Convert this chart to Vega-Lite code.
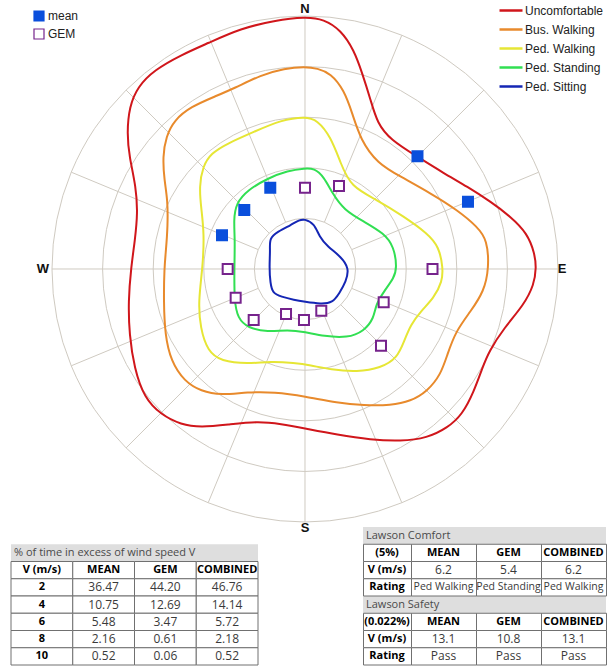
{
  "$schema": "https://vega.github.io/schema/vega-lite/v6.json",
  "padding": {"left": 10, "top": 0, "right": 0, "bottom": 0},
  "autosize": {"type": "pad"},
  "background": "white",
  "bounds": "flush",
  "spacing": 4,
  "config": {"view": {"stroke": null}},
  "datasets": {
    "rings": [
      {"x": 0, "y": 0, "r": 1}, {"x": 0, "y": 0, "r": 2}, {"x": 0, "y": 0, "r": 3}, {"x": 0, "y": 0, "r": 4}, {"x": 0, "y": 0, "r": 5}
    ],
    "spokes": [
      {"x": 0, "y": 5, "x2": 0, "y2": -5},
      {"x": -5, "y": 0, "x2": 5, "y2": 0},
      {"x": 0.383, "y": 0.924, "x2": 1.913, "y2": 4.619},
      {"x": 0.707, "y": 0.707, "x2": 3.536, "y2": 3.536},
      {"x": 0.924, "y": 0.383, "x2": 4.619, "y2": 1.913},
      {"x": 0.924, "y": -0.383, "x2": 4.619, "y2": -1.913},
      {"x": 0.707, "y": -0.707, "x2": 3.536, "y2": -3.536},
      {"x": 0.383, "y": -0.924, "x2": 1.913, "y2": -4.619},
      {"x": -0.383, "y": -0.924, "x2": -1.913, "y2": -4.619},
      {"x": -0.707, "y": -0.707, "x2": -3.536, "y2": -3.536},
      {"x": -0.924, "y": -0.383, "x2": -4.619, "y2": -1.913},
      {"x": -0.924, "y": 0.383, "x2": -4.619, "y2": 1.913},
      {"x": -0.707, "y": 0.707, "x2": -3.536, "y2": 3.536},
      {"x": -0.383, "y": 0.924, "x2": -1.913, "y2": 4.619}
    ],
    "contours": [
      {"level": "Uncomfortable", "i": 0, "x": 0.006, "y": 4.986},
      {"level": "Uncomfortable", "i": 1, "x": -0.607, "y": 4.907},
      {"level": "Uncomfortable", "i": 2, "x": -1.265, "y": 4.757},
      {"level": "Uncomfortable", "i": 3, "x": -1.923, "y": 4.46},
      {"level": "Uncomfortable", "i": 4, "x": -2.451, "y": 4.229},
      {"level": "Uncomfortable", "i": 5, "x": -2.978, "y": 3.933},
      {"level": "Uncomfortable", "i": 6, "x": -3.306, "y": 3.603},
      {"level": "Uncomfortable", "i": 7, "x": -3.472, "y": 3.208},
      {"level": "Uncomfortable", "i": 8, "x": -3.518, "y": 2.682},
      {"level": "Uncomfortable", "i": 9, "x": -3.472, "y": 2.219},
      {"level": "Uncomfortable", "i": 10, "x": -3.34, "y": 1.626},
      {"level": "Uncomfortable", "i": 11, "x": -3.306, "y": 1.101},
      {"level": "Uncomfortable", "i": 12, "x": -3.36, "y": 0.573},
      {"level": "Uncomfortable", "i": 13, "x": -3.439, "y": 0.014},
      {"level": "Uncomfortable", "i": 14, "x": -3.492, "y": -0.638},
      {"level": "Uncomfortable", "i": 15, "x": -3.472, "y": -1.298},
      {"level": "Uncomfortable", "i": 16, "x": -3.374, "y": -1.957},
      {"level": "Uncomfortable", "i": 17, "x": -3.176, "y": -2.549},
      {"level": "Uncomfortable", "i": 18, "x": -2.846, "y": -2.879},
      {"level": "Uncomfortable", "i": 19, "x": -2.451, "y": -3.077},
      {"level": "Uncomfortable", "i": 20, "x": -2.055, "y": -3.128},
      {"level": "Uncomfortable", "i": 21, "x": -1.528, "y": -3.077},
      {"level": "Uncomfortable", "i": 22, "x": -0.935, "y": -3.01},
      {"level": "Uncomfortable", "i": 23, "x": -0.474, "y": -3.063},
      {"level": "Uncomfortable", "i": 24, "x": 0, "y": -3.152},
      {"level": "Uncomfortable", "i": 25, "x": 0.638, "y": -3.275},
      {"level": "Uncomfortable", "i": 26, "x": 1.298, "y": -3.374},
      {"level": "Uncomfortable", "i": 27, "x": 1.891, "y": -3.405},
      {"level": "Uncomfortable", "i": 28, "x": 2.417, "y": -3.34},
      {"level": "Uncomfortable", "i": 29, "x": 2.812, "y": -3.142},
      {"level": "Uncomfortable", "i": 30, "x": 3.109, "y": -2.879},
      {"level": "Uncomfortable", "i": 31, "x": 3.34, "y": -2.417},
      {"level": "Uncomfortable", "i": 32, "x": 3.504, "y": -1.957},
      {"level": "Uncomfortable", "i": 33, "x": 3.636, "y": -1.626},
      {"level": "Uncomfortable", "i": 34, "x": 3.933, "y": -1.166},
      {"level": "Uncomfortable", "i": 35, "x": 4.328, "y": -0.706},
      {"level": "Uncomfortable", "i": 36, "x": 4.526, "y": -0.31},
      {"level": "Uncomfortable", "i": 37, "x": 4.571, "y": 0.02},
      {"level": "Uncomfortable", "i": 38, "x": 4.54, "y": 0.31},
      {"level": "Uncomfortable", "i": 39, "x": 4.393, "y": 0.706},
      {"level": "Uncomfortable", "i": 40, "x": 4.065, "y": 1.034},
      {"level": "Uncomfortable", "i": 41, "x": 3.67, "y": 1.33},
      {"level": "Uncomfortable", "i": 42, "x": 3.208, "y": 1.626},
      {"level": "Uncomfortable", "i": 43, "x": 2.747, "y": 1.891},
      {"level": "Uncomfortable", "i": 44, "x": 2.219, "y": 2.219},
      {"level": "Uncomfortable", "i": 45, "x": 1.694, "y": 2.549},
      {"level": "Uncomfortable", "i": 46, "x": 1.429, "y": 2.879},
      {"level": "Uncomfortable", "i": 47, "x": 1.298, "y": 3.34},
      {"level": "Uncomfortable", "i": 48, "x": 1.132, "y": 3.868},
      {"level": "Uncomfortable", "i": 49, "x": 0.968, "y": 4.328},
      {"level": "Uncomfortable", "i": 50, "x": 0.706, "y": 4.723},
      {"level": "Uncomfortable", "i": 51, "x": 0.375, "y": 4.935},
      {"level": "Bus. Walking", "i": 0, "x": 0.006, "y": 3.998},
      {"level": "Bus. Walking", "i": 1, "x": -0.409, "y": 3.966},
      {"level": "Bus. Walking", "i": 2, "x": -0.87, "y": 3.834},
      {"level": "Bus. Walking", "i": 3, "x": -1.397, "y": 3.571},
      {"level": "Bus. Walking", "i": 4, "x": -1.792, "y": 3.405},
      {"level": "Bus. Walking", "i": 5, "x": -2.253, "y": 3.208},
      {"level": "Bus. Walking", "i": 6, "x": -2.583, "y": 2.945},
      {"level": "Bus. Walking", "i": 7, "x": -2.747, "y": 2.615},
      {"level": "Bus. Walking", "i": 8, "x": -2.812, "y": 2.219},
      {"level": "Bus. Walking", "i": 9, "x": -2.781, "y": 1.759},
      {"level": "Bus. Walking", "i": 10, "x": -2.713, "y": 1.364},
      {"level": "Bus. Walking", "i": 11, "x": -2.713, "y": 0.836},
      {"level": "Bus. Walking", "i": 12, "x": -2.747, "y": 0.375},
      {"level": "Bus. Walking", "i": 13, "x": -2.781, "y": 0.014},
      {"level": "Bus. Walking", "i": 14, "x": -2.792, "y": -0.638},
      {"level": "Bus. Walking", "i": 15, "x": -2.767, "y": -1.298},
      {"level": "Bus. Walking", "i": 16, "x": -2.648, "y": -1.824},
      {"level": "Bus. Walking", "i": 17, "x": -2.385, "y": -2.219},
      {"level": "Bus. Walking", "i": 18, "x": -2.055, "y": -2.417},
      {"level": "Bus. Walking", "i": 19, "x": -1.66, "y": -2.496},
      {"level": "Bus. Walking", "i": 20, "x": -1.132, "y": -2.431},
      {"level": "Bus. Walking", "i": 21, "x": -0.607, "y": -2.431},
      {"level": "Bus. Walking", "i": 22, "x": 0, "y": -2.516},
      {"level": "Bus. Walking", "i": 23, "x": 0.638, "y": -2.648},
      {"level": "Bus. Walking", "i": 24, "x": 1.166, "y": -2.694},
      {"level": "Bus. Walking", "i": 25, "x": 1.694, "y": -2.694},
      {"level": "Bus. Walking", "i": 26, "x": 2.089, "y": -2.615},
      {"level": "Bus. Walking", "i": 27, "x": 2.417, "y": -2.417},
      {"level": "Bus. Walking", "i": 28, "x": 2.682, "y": -2.089},
      {"level": "Bus. Walking", "i": 29, "x": 2.812, "y": -1.694},
      {"level": "Bus. Walking", "i": 30, "x": 2.978, "y": -1.231},
      {"level": "Bus. Walking", "i": 31, "x": 3.275, "y": -0.836},
      {"level": "Bus. Walking", "i": 32, "x": 3.538, "y": -0.441},
      {"level": "Bus. Walking", "i": 33, "x": 3.636, "y": 0.02},
      {"level": "Bus. Walking", "i": 34, "x": 3.603, "y": 0.573},
      {"level": "Bus. Walking", "i": 35, "x": 3.405, "y": 0.836},
      {"level": "Bus. Walking", "i": 36, "x": 3.01, "y": 1.166},
      {"level": "Bus. Walking", "i": 37, "x": 2.484, "y": 1.496},
      {"level": "Bus. Walking", "i": 38, "x": 1.891, "y": 1.824},
      {"level": "Bus. Walking", "i": 39, "x": 1.429, "y": 2.089},
      {"level": "Bus. Walking", "i": 40, "x": 1.101, "y": 2.549},
      {"level": "Bus. Walking", "i": 41, "x": 0.935, "y": 3.077},
      {"level": "Bus. Walking", "i": 42, "x": 0.771, "y": 3.538},
      {"level": "Bus. Walking", "i": 43, "x": 0.508, "y": 3.868},
      {"level": "Bus. Walking", "i": 44, "x": 0.243, "y": 3.966},
      {"level": "Ped. Walking", "i": 0, "x": 0.006, "y": 3.01},
      {"level": "Ped. Walking", "i": 1, "x": -0.474, "y": 2.945},
      {"level": "Ped. Walking", "i": 2, "x": -1.002, "y": 2.713},
      {"level": "Ped. Walking", "i": 3, "x": -1.528, "y": 2.484},
      {"level": "Ped. Walking", "i": 4, "x": -1.858, "y": 2.287},
      {"level": "Ped. Walking", "i": 5, "x": -2.022, "y": 2.022},
      {"level": "Ped. Walking", "i": 6, "x": -2.089, "y": 1.626},
      {"level": "Ped. Walking", "i": 7, "x": -2.055, "y": 1.231},
      {"level": "Ped. Walking", "i": 8, "x": -1.99, "y": 0.706},
      {"level": "Ped. Walking", "i": 9, "x": -2.022, "y": 0.014},
      {"level": "Ped. Walking", "i": 10, "x": -2.109, "y": -0.638},
      {"level": "Ped. Walking", "i": 11, "x": -2.069, "y": -1.166},
      {"level": "Ped. Walking", "i": 12, "x": -1.923, "y": -1.626},
      {"level": "Ped. Walking", "i": 13, "x": -1.66, "y": -1.824},
      {"level": "Ped. Walking", "i": 14, "x": -1.132, "y": -1.877},
      {"level": "Ped. Walking", "i": 15, "x": -0.672, "y": -1.824},
      {"level": "Ped. Walking", "i": 16, "x": -0.211, "y": -1.858},
      {"level": "Ped. Walking", "i": 17, "x": 0.1, "y": -1.9},
      {"level": "Ped. Walking", "i": 18, "x": 0.508, "y": -1.99},
      {"level": "Ped. Walking", "i": 19, "x": 1.034, "y": -2.036},
      {"level": "Ped. Walking", "i": 20, "x": 1.496, "y": -1.957},
      {"level": "Ped. Walking", "i": 21, "x": 1.824, "y": -1.759},
      {"level": "Ped. Walking", "i": 22, "x": 1.957, "y": -1.429},
      {"level": "Ped. Walking", "i": 23, "x": 2.089, "y": -1.101},
      {"level": "Ped. Walking", "i": 24, "x": 2.287, "y": -0.836},
      {"level": "Ped. Walking", "i": 25, "x": 2.549, "y": -0.573},
      {"level": "Ped. Walking", "i": 26, "x": 2.713, "y": -0.243},
      {"level": "Ped. Walking", "i": 27, "x": 2.727, "y": 0.02},
      {"level": "Ped. Walking", "i": 28, "x": 2.648, "y": 0.441},
      {"level": "Ped. Walking", "i": 29, "x": 2.417, "y": 0.706},
      {"level": "Ped. Walking", "i": 30, "x": 1.957, "y": 1.034},
      {"level": "Ped. Walking", "i": 31, "x": 1.429, "y": 1.364},
      {"level": "Ped. Walking", "i": 32, "x": 0.903, "y": 1.626},
      {"level": "Ped. Walking", "i": 33, "x": 0.706, "y": 2.089},
      {"level": "Ped. Walking", "i": 34, "x": 0.508, "y": 2.615},
      {"level": "Ped. Walking", "i": 35, "x": 0.243, "y": 2.945},
      {"level": "Ped. Standing", "i": 0, "x": 0.006, "y": 1.99},
      {"level": "Ped. Standing", "i": 1, "x": -0.342, "y": 1.943},
      {"level": "Ped. Standing", "i": 2, "x": -0.737, "y": 1.792},
      {"level": "Ped. Standing", "i": 3, "x": -1.132, "y": 1.561},
      {"level": "Ped. Standing", "i": 4, "x": -1.364, "y": 1.298},
      {"level": "Ped. Standing", "i": 5, "x": -1.409, "y": 0.968},
      {"level": "Ped. Standing", "i": 6, "x": -1.383, "y": 0.573},
      {"level": "Ped. Standing", "i": 7, "x": -1.397, "y": 0.014},
      {"level": "Ped. Standing", "i": 8, "x": -1.397, "y": -0.638},
      {"level": "Ped. Standing", "i": 9, "x": -1.33, "y": -0.968},
      {"level": "Ped. Standing", "i": 10, "x": -1.132, "y": -1.166},
      {"level": "Ped. Standing", "i": 11, "x": -0.737, "y": -1.245},
      {"level": "Ped. Standing", "i": 12, "x": -0.342, "y": -1.2},
      {"level": "Ped. Standing", "i": 13, "x": 0, "y": -1.245},
      {"level": "Ped. Standing", "i": 14, "x": 0.375, "y": -1.33},
      {"level": "Ped. Standing", "i": 15, "x": 0.836, "y": -1.364},
      {"level": "Ped. Standing", "i": 16, "x": 1.166, "y": -1.231},
      {"level": "Ped. Standing", "i": 17, "x": 1.364, "y": -0.968},
      {"level": "Ped. Standing", "i": 18, "x": 1.397, "y": -0.706},
      {"level": "Ped. Standing", "i": 19, "x": 1.561, "y": -0.441},
      {"level": "Ped. Standing", "i": 20, "x": 1.759, "y": -0.178},
      {"level": "Ped. Standing", "i": 21, "x": 1.818, "y": 0.02},
      {"level": "Ped. Standing", "i": 22, "x": 1.759, "y": 0.441},
      {"level": "Ped. Standing", "i": 23, "x": 1.561, "y": 0.706},
      {"level": "Ped. Standing", "i": 24, "x": 1.166, "y": 0.935},
      {"level": "Ped. Standing", "i": 25, "x": 0.771, "y": 1.166},
      {"level": "Ped. Standing", "i": 26, "x": 0.54, "y": 1.496},
      {"level": "Ped. Standing", "i": 27, "x": 0.375, "y": 1.824},
      {"level": "Ped. Standing", "i": 28, "x": 0.178, "y": 1.99},
      {"level": "Ped. Sitting", "i": 0, "x": -0.014, "y": 0.988},
      {"level": "Ped. Sitting", "i": 1, "x": 0.184, "y": 0.903},
      {"level": "Ped. Sitting", "i": 2, "x": 0.283, "y": 0.638},
      {"level": "Ped. Sitting", "i": 3, "x": 0.449, "y": 0.441},
      {"level": "Ped. Sitting", "i": 4, "x": 0.711, "y": 0.243},
      {"level": "Ped. Sitting", "i": 5, "x": 0.875, "y": 0.014},
      {"level": "Ped. Sitting", "i": 6, "x": 0.81, "y": -0.251},
      {"level": "Ped. Sitting", "i": 7, "x": 0.678, "y": -0.48},
      {"level": "Ped. Sitting", "i": 8, "x": 0.547, "y": -0.666},
      {"level": "Ped. Sitting", "i": 9, "x": 0.316, "y": -0.692},
      {"level": "Ped. Sitting", "i": 10, "x": -0.014, "y": -0.646},
      {"level": "Ped. Sitting", "i": 11, "x": -0.211, "y": -0.613},
      {"level": "Ped. Sitting", "i": 12, "x": -0.474, "y": -0.547},
      {"level": "Ped. Sitting", "i": 13, "x": -0.638, "y": -0.48},
      {"level": "Ped. Sitting", "i": 14, "x": -0.686, "y": -0.283},
      {"level": "Ped. Sitting", "i": 15, "x": -0.706, "y": 0.045},
      {"level": "Ped. Sitting", "i": 16, "x": -0.686, "y": 0.375},
      {"level": "Ped. Sitting", "i": 17, "x": -0.706, "y": 0.607},
      {"level": "Ped. Sitting", "i": 18, "x": -0.54, "y": 0.737},
      {"level": "Ped. Sitting", "i": 19, "x": -0.277, "y": 0.87},
      {"level": "Ped. Sitting", "i": 20, "x": -0.113, "y": 0.968}
    ],
    "markers": [
      {"type": "mean", "x": -0.686, "y": 1.607},
      {"type": "mean", "x": -1.2, "y": 1.166},
      {"type": "mean", "x": -1.64, "y": 0.666},
      {"type": "mean", "x": 2.223, "y": 2.227},
      {"type": "mean", "x": 3.221, "y": 1.33},
      {"type": "GEM", "x": 0, "y": 1.607},
      {"type": "GEM", "x": 0.672, "y": 1.64},
      {"type": "GEM", "x": -1.528, "y": 0},
      {"type": "GEM", "x": -1.37, "y": -0.567},
      {"type": "GEM", "x": -1.014, "y": -1.008},
      {"type": "GEM", "x": -0.375, "y": -0.889},
      {"type": "GEM", "x": -0.02, "y": -1.008},
      {"type": "GEM", "x": 0.322, "y": -0.824},
      {"type": "GEM", "x": 1.555, "y": -0.658},
      {"type": "GEM", "x": 2.52, "y": 0},
      {"type": "GEM", "x": 1.502, "y": -1.516}
    ],
    "compass": [
      {"label": "N", "x": 0, "y": 5.138},
      {"label": "E", "x": 5.079, "y": 0},
      {"label": "S", "x": 0, "y": -5.119},
      {"label": "W", "x": -5.178, "y": 0}
    ],
    "leftTitle": [
      {"row": "title", "col": "c0", "text": "% of time in excess of wind speed V"}
    ],
    "leftCells": [
      {"row": "hdr", "col": "c0", "text": "V (m/s)"}, {"row": "hdr", "col": "c1", "text": "MEAN"}, {"row": "hdr", "col": "c2", "text": "GEM"}, {"row": "hdr", "col": "c3", "text": "COMBINED"},
      {"row": "2", "col": "c0", "text": "2"}, {"row": "2", "col": "c1", "text": "36.47"}, {"row": "2", "col": "c2", "text": "44.20"}, {"row": "2", "col": "c3", "text": "46.76"},
      {"row": "4", "col": "c0", "text": "4"}, {"row": "4", "col": "c1", "text": "10.75"}, {"row": "4", "col": "c2", "text": "12.69"}, {"row": "4", "col": "c3", "text": "14.14"},
      {"row": "6", "col": "c0", "text": "6"}, {"row": "6", "col": "c1", "text": "5.48"}, {"row": "6", "col": "c2", "text": "3.47"}, {"row": "6", "col": "c3", "text": "5.72"},
      {"row": "8", "col": "c0", "text": "8"}, {"row": "8", "col": "c1", "text": "2.16"}, {"row": "8", "col": "c2", "text": "0.61"}, {"row": "8", "col": "c3", "text": "2.18"},
      {"row": "10", "col": "c0", "text": "10"}, {"row": "10", "col": "c1", "text": "0.52"}, {"row": "10", "col": "c2", "text": "0.06"}, {"row": "10", "col": "c3", "text": "0.52"}
    ],
    "rightTitle": [
      {"row": "t1", "c": 0, "text": "Lawson Comfort"},
      {"row": "t2", "c": 0, "text": "Lawson Safety"}
    ],
    "rightCells": [
      {"row": "r1", "c": 0, "text": "(5%)"}, {"row": "r1", "c": 1, "text": "MEAN"}, {"row": "r1", "c": 2, "text": "GEM"}, {"row": "r1", "c": 3, "text": "COMBINED"},
      {"row": "r2", "c": 0, "text": "V (m/s)"}, {"row": "r2", "c": 1, "text": "6.2"}, {"row": "r2", "c": 2, "text": "5.4"}, {"row": "r2", "c": 3, "text": "6.2"},
      {"row": "r3", "c": 0, "text": "Rating"}, {"row": "r3", "c": 1, "text": "Ped Walking"}, {"row": "r3", "c": 2, "text": "Ped Standing"}, {"row": "r3", "c": 3, "text": "Ped Walking"},
      {"row": "r4", "c": 0, "text": "(0.022%)"}, {"row": "r4", "c": 1, "text": "MEAN"}, {"row": "r4", "c": 2, "text": "GEM"}, {"row": "r4", "c": 3, "text": "COMBINED"},
      {"row": "r5", "c": 0, "text": "V (m/s)"}, {"row": "r5", "c": 1, "text": "13.1"}, {"row": "r5", "c": 2, "text": "10.8"}, {"row": "r5", "c": 3, "text": "13.1"},
      {"row": "r6", "c": 0, "text": "Rating"}, {"row": "r6", "c": 1, "text": "Pass"}, {"row": "r6", "c": 2, "text": "Pass"}, {"row": "r6", "c": 3, "text": "Pass"}
    ]
  },
  "vconcat": [
    {
      "width": 602,
      "height": 523,
      "encoding": {
        "x": {"field": "x", "type": "quantitative", "scale": {"domain": [-5.81, 6.087], "nice": false, "zero": false}, "axis": null},
        "y": {"field": "y", "type": "quantitative", "scale": {"domain": [-5.02, 5.316], "nice": false, "zero": false}, "axis": null}
      },
      "layer": [
        {
          "data": {"name": "rings"},
          "mark": {"type": "point", "shape": "circle", "filled": false, "stroke": "#cfcac1", "strokeWidth": 1, "opacity": 1},
          "encoding": {
            "size": {"field": "r", "type": "quantitative", "scale": {"type": "pow", "exponent": 2, "domain": [0, 5], "range": [0, 256036]}, "legend": null}
          }
        },
        {
          "data": {"name": "spokes"},
          "mark": {"type": "rule", "stroke": "#cfcac1", "strokeWidth": 1},
          "encoding": {
            "x2": {"field": "x2"},
            "y2": {"field": "y2"}
          }
        },
        {
          "data": {"name": "contours"},
          "mark": {"type": "line", "interpolate": "basis-closed", "strokeWidth": 2},
          "encoding": {
            "order": {"field": "i", "type": "quantitative"},
            "color": {
              "field": "level", "type": "nominal",
              "scale": {"domain": ["Uncomfortable", "Bus. Walking", "Ped. Walking", "Ped. Standing", "Ped. Sitting"], "range": ["#d0161b", "#e88a2c", "#e6e635", "#31df52", "#1426b4"]},
              "legend": {"title": null, "orient": "none", "legendX": 487, "legendY": 1, "direction": "vertical", "symbolType": "stroke", "symbolSize": 529, "symbolStrokeWidth": 2.5, "labelFont": "Liberation Sans", "labelFontSize": 12, "labelColor": "#222", "labelOffset": 1, "clipHeight": 19, "rowPadding": 0, "padding": 0}
            }
          }
        },
        {
          "data": {"name": "markers"},
          "mark": {"type": "point", "shape": "square", "filled": true, "size": 100, "strokeWidth": 2, "opacity": 1},
          "encoding": {
            "fill": {
              "field": "type", "type": "nominal",
              "scale": {"domain": ["mean", "GEM"], "range": ["#0a4fdc", "#ffffff"]},
              "legend": {"title": null, "orient": "none", "legendX": 22, "legendY": 7, "direction": "vertical", "symbolType": "square", "symbolSize": 100, "symbolStrokeWidth": 1.2, "labelFont": "Liberation Sans", "labelFontSize": 12, "labelColor": "#222", "labelOffset": 3, "clipHeight": 18, "rowPadding": 0, "padding": 0}
            },
            "stroke": {
              "field": "type", "type": "nominal",
              "scale": {"domain": ["mean", "GEM"], "range": ["#0a4fdc", "#76238c"]},
              "legend": {"title": null, "orient": "none", "legendX": 22, "legendY": 7, "direction": "vertical", "symbolType": "square", "symbolSize": 100, "symbolStrokeWidth": 1.2, "labelFont": "Liberation Sans", "labelFontSize": 12, "labelColor": "#222", "labelOffset": 3, "clipHeight": 18, "rowPadding": 0, "padding": 0}
            }
          }
        },
        {
          "data": {"name": "compass"},
          "mark": {"type": "text", "font": "Liberation Sans", "fontSize": 13, "fontWeight": "bold", "color": "#111"},
          "encoding": {
            "text": {"field": "label"}
          }
        }
      ]
    },
    {
      "bounds": "flush",
      "spacing": 105,
      "hconcat": [
        {
          "width": 247,
          "height": 138,
          "encoding": {
            "y": {"field": "row", "type": "nominal", "scale": {"domain": ["blank", "title", "hdr", "2", "4", "6", "8", "10"], "paddingInner": 0, "paddingOuter": 0}, "axis": null}
          },
          "layer": [
            {
              "data": {"name": "leftTitle"},
              "mark": {"type": "rect", "fill": "#dedede"}
            },
            {
              "data": {"name": "leftCells"},
              "mark": {"type": "rect", "fill": "#ffffff", "stroke": "#707070", "strokeWidth": 1},
              "encoding": {
                "x": {"field": "col", "type": "nominal", "scale": {"domain": ["c0", "c1", "c2", "c3"], "paddingInner": 0, "paddingOuter": 0}, "axis": null}
              }
            },
            {
              "data": {"name": "leftCells"},
              "transform": [{"filter": "datum.row !== 'hdr' && datum.col !== 'c0'"}],
              "mark": {"type": "text", "font": "Open Sans", "fontSize": 12, "color": "#3a3a3a"},
              "encoding": {
                "x": {"field": "col", "type": "nominal", "axis": null},
                "text": {"field": "text"}
              }
            },
            {
              "data": {"name": "leftCells"},
              "transform": [{"filter": "datum.row === 'hdr' || datum.col === 'c0'"}],
              "mark": {"type": "text", "font": "Open Sans", "fontSize": 11, "fontWeight": "bold", "color": "#000000"},
              "encoding": {
                "x": {"field": "col", "type": "nominal", "axis": null},
                "text": {"field": "text"}
              }
            },
            {
              "data": {"name": "leftTitle"},
              "mark": {"type": "text", "font": "Open Sans", "fontSize": 11, "align": "left", "dx": 3, "color": "#4a4a4a"},
              "encoding": {
                "x": {"field": "col", "type": "nominal", "bandPosition": 0, "axis": null},
                "text": {"field": "text"}
              }
            }
          ]
        },
        {
          "width": 243,
          "height": 138,
          "encoding": {
            "y": {"field": "row", "type": "nominal", "scale": {"domain": ["t1", "r1", "r2", "r3", "t2", "r4", "r5", "r6"], "paddingInner": 0, "paddingOuter": 0}, "axis": null}
          },
          "layer": [
            {
              "data": {"name": "rightTitle"},
              "mark": {"type": "rect", "fill": "#dedede"}
            },
            {
              "data": {"name": "rightCells"},
              "mark": {"type": "rect", "fill": "#ffffff", "stroke": "#707070", "strokeWidth": 1},
              "encoding": {
                "x": {"field": "c", "type": "quantitative", "bin": {"binned": true, "step": 1}, "scale": {"domain": [0, 1, 4], "range": [0, 48, 243]}, "axis": null}
              }
            },
            {
              "data": {"name": "rightCells"},
              "transform": [{"filter": "datum.c === 0"}],
              "mark": {"type": "text", "font": "Open Sans", "fontSize": 11, "fontWeight": "bold", "color": "#000000", "dx": 24},
              "encoding": {
                "x": {"field": "c", "type": "quantitative", "axis": null},
                "text": {"field": "text"}
              }
            },
            {
              "data": {"name": "rightCells"},
              "transform": [{"filter": "datum.c !== 0 && (datum.row === 'r1' || datum.row === 'r4')"}],
              "mark": {"type": "text", "font": "Open Sans", "fontSize": 11, "fontWeight": "bold", "color": "#000000", "dx": 32.5},
              "encoding": {
                "x": {"field": "c", "type": "quantitative", "axis": null},
                "text": {"field": "text"}
              }
            },
            {
              "data": {"name": "rightCells"},
              "transform": [{"filter": "datum.c !== 0 && (datum.row === 'r2' || datum.row === 'r5' || datum.row === 'r6')"}],
              "mark": {"type": "text", "font": "Open Sans", "fontSize": 12, "color": "#3a3a3a", "dx": 32.5},
              "encoding": {
                "x": {"field": "c", "type": "quantitative", "axis": null},
                "text": {"field": "text"}
              }
            },
            {
              "data": {"name": "rightCells"},
              "transform": [{"filter": "datum.c !== 0 && datum.row === 'r3'"}],
              "mark": {"type": "text", "font": "Open Sans", "fontSize": 10.5, "color": "#3a3a3a", "dx": 32.5},
              "encoding": {
                "x": {"field": "c", "type": "quantitative", "axis": null},
                "text": {"field": "text"}
              }
            },
            {
              "data": {"name": "rightTitle"},
              "mark": {"type": "text", "font": "Open Sans", "fontSize": 11, "align": "left", "dx": 3, "color": "#4a4a4a"},
              "encoding": {
                "x": {"field": "c", "type": "quantitative", "axis": null},
                "text": {"field": "text"}
              }
            }
          ]
        }
      ]
    }
  ]
}
